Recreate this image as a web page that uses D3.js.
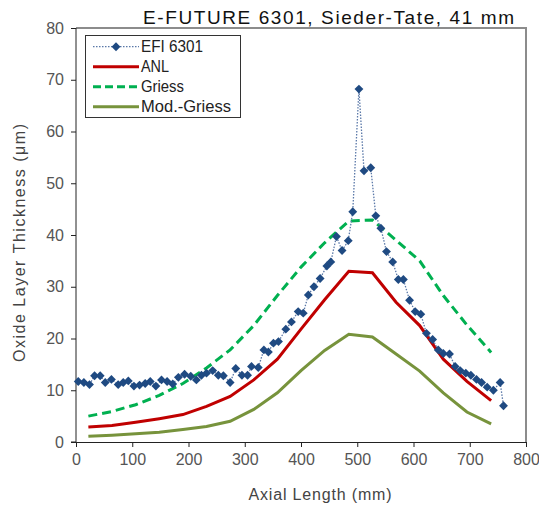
<!DOCTYPE html>
<html><head><meta charset="utf-8">
<script src="https://cdn.jsdelivr.net/npm/d3@7"></script>
<style>body{margin:0;background:#fff}svg{display:block}text{font-family:"Liberation Sans",Arial,sans-serif}</style>
</head><body><svg id="c" width="539" height="508"></svg>
<script>
const efiX = [4,14,24,33,43,52,63,75,84,93,103,113,123,132,142,152,162,172,182,193,204,214,223,232,243,253,262,274,284,295,305,312,324,334,342,351,360,373,383,395,404,413,423,434,446,453,463,473,484,492,503,512,524,533,542,552,563,573,582,593,603,613,623,634,644,653,664,674,683,693,702,712,721,731,742,754,760];
const efiY = [11.7,11.5,11.1,12.8,12.8,11.5,12.1,11.1,11.5,11.8,10.8,11.0,11.3,11.7,10.8,12.0,11.7,11.2,12.5,13.1,12.7,12.0,12.9,13.3,13.8,12.9,12.8,11.5,14.2,12.9,12.9,14.6,14.4,17.8,17.4,19.1,19.4,21.8,23.2,25.2,24.9,28.4,30.0,31.6,34.0,34.8,39.7,37.0,38.9,44.5,68.2,52.4,53.0,43.7,41.3,36.8,34.8,31.4,31.4,27.4,25.2,24.7,21.0,19.8,17.8,17.1,17.0,14.6,13.8,13.3,12.9,12.1,11.5,10.6,10.0,11.5,7.0];
const modelX = [22,64,106,148,190,232,274,316,358,400,442,485,527,569,611,653,695,738];
const anlY = [2.9,3.2,3.8,4.5,5.3,6.9,8.8,12.0,16.0,21.8,27.5,33.0,32.7,27.0,22.5,16.0,11.7,8.0];
const griessY = [5.0,5.9,7.2,9.0,11.3,14.3,17.8,22.5,28.3,33.8,38.5,42.7,42.9,39.0,35.0,28.3,22.6,17.3];
const modGriessY = [1.1,1.3,1.6,1.9,2.4,3.0,4.0,6.3,9.5,13.8,17.7,20.8,20.3,17.0,13.7,9.5,5.8,3.5];
const xTicks = [0,100,200,300,400,500,600,700,800];
const yTicks = [0,10,20,30,40,50,60,70,80];
const seriesNames = ["EFI 6301","ANL","Griess","Mod.-Griess"];

const svg = d3.select("#c");
const L=76, R=526, T=28, B=442;
const x = d3.scaleLinear().domain([0,800]).range([L,R]);
const y = d3.scaleLinear().domain([0,80]).range([B,T]);
const tickCol = "#555";

svg.append("path").attr("d",`M${L},${T}H${R}V${B}`).attr("fill","none").attr("stroke","#8c8c8c").attr("stroke-width",2);

const ya = svg.append("g").attr("transform",`translate(${L},0)`)
  .call(d3.axisLeft(y).tickValues(yTicks).tickSize(5).tickPadding(7));
const xa = svg.append("g").attr("transform",`translate(0,${B})`)
  .call(d3.axisBottom(x).tickValues(xTicks).tickSize(5).tickPadding(7));
[ya,xa].forEach(a=>{
  a.select(".domain").attr("stroke","#222");
  a.selectAll(".tick line").attr("stroke","#222");
  a.selectAll(".tick text").attr("fill",tickCol).style("font-size","16px").style("font-family","'Liberation Sans',Arial,sans-serif");
});
ya.select(".domain").attr("d",`M-5,${B}H0V${T}`);

const line = d3.line().x(d=>x(d[0])).y(d=>y(d[1]));
const mz = (xs,ys)=>xs.map((v,i)=>[v,ys[i]]);
svg.append("path").datum(mz(modelX,griessY)).attr("d",line).attr("fill","none")
  .attr("stroke","#00b050").attr("stroke-width",3).attr("stroke-dasharray","9,5");
svg.append("path").datum(mz(modelX,modGriessY)).attr("d",line).attr("fill","none")
  .attr("stroke","#77933c").attr("stroke-width",3);
svg.append("path").datum(mz(modelX,anlY)).attr("d",line).attr("fill","none")
  .attr("stroke","#c00000").attr("stroke-width",3);
const efi = mz(efiX,efiY);
svg.append("path").datum(efi).attr("d",line).attr("fill","none")
  .attr("stroke","#5a78a8").attr("stroke-width",1.3).attr("stroke-dasharray","1.5,1.5");
const diamond = d3.symbol().type(d3.symbolDiamond2).size(50);
svg.append("g").selectAll("path").data(efi).join("path")
  .attr("d",diamond).attr("transform",d=>`translate(${x(d[0])},${y(d[1])})`).attr("fill","#1f4a82");

const lg = svg.append("g");
lg.append("rect").attr("x",85.5).attr("y",35.5).attr("width",155).attr("height",82).attr("fill","#fff").attr("stroke","#333").attr("stroke-width",1);
const rows=[46.7,66.7,86.7,106.7];
const legW=[62,28,43,90];
const styles=[
  {c:"#5a78a8",w:1.3,d:"1.5,1.5"},
  {c:"#c00000",w:3,d:null},
  {c:"#00b050",w:3,d:"8,4"},
  {c:"#77933c",w:3,d:null}];
seriesNames.forEach((n,i)=>{
  const ln = lg.append("line").attr("x1",93).attr("x2",139).attr("y1",rows[i]).attr("y2",rows[i])
    .attr("stroke",styles[i].c).attr("stroke-width",styles[i].w);
  if(styles[i].d) ln.attr("stroke-dasharray",styles[i].d);
  if(i===0) lg.append("path").attr("d",diamond).attr("transform",`translate(116,${rows[i]})`).attr("fill","#1f4a82");
  lg.append("text").attr("x",141).attr("y",rows[i]).attr("dy","0.36em").attr("fill","#222").style("font-size","16px")
    .attr("textLength",legW[i]).attr("lengthAdjust","spacingAndGlyphs").text(n);
});

svg.append("text").attr("x",143).attr("y",17).attr("dy","0.35em")
  .attr("fill","#111").style("font-size","19px").attr("textLength",371).attr("lengthAdjust","spacing")
  .text("E-FUTURE 6301, Sieder-Tate, 41 mm");
svg.append("text").attr("transform","translate(19,243) rotate(-90)").attr("text-anchor","middle").attr("dy","0.35em")
  .attr("fill","#444").style("font-size","16px").attr("textLength",238).attr("lengthAdjust","spacing")
  .text("Oxide Layer Thickness (μm)");
svg.append("text").attr("x",320).attr("y",494).attr("text-anchor","middle").attr("dy","0.35em")
  .attr("fill","#444").style("font-size","16px").attr("textLength",143).attr("lengthAdjust","spacing")
  .text("Axial Length (mm)");
</script></body></html>
